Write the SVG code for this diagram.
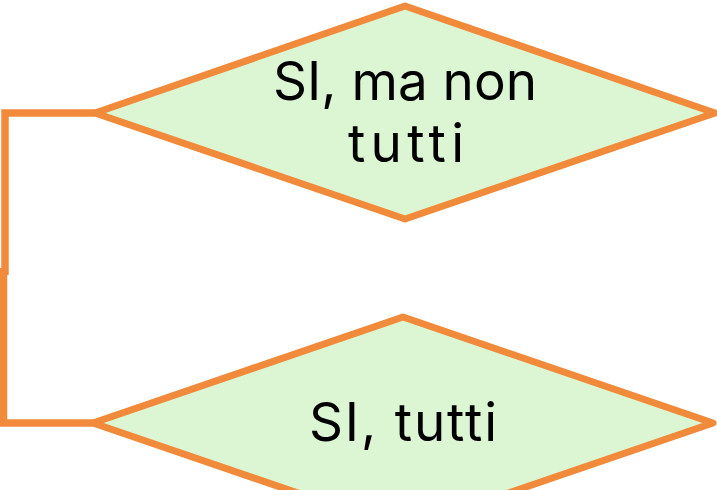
<svg xmlns="http://www.w3.org/2000/svg" width="717" height="490" viewBox="0 0 717 490">
<style>
.d{fill:#dcf6d4;stroke:#f18a3a;stroke-width:7;stroke-linejoin:round}
.c{fill:none;stroke:#f18a3a;stroke-width:7.5}
.t{font-family:Inter,"Liberation Sans",sans-serif;font-size:53px;fill:#000;text-anchor:middle}
</style>
<g id="connectors">
<path class="c" d="M95,113 H5 V275"/>
<path class="c" d="M3.5,268 V423 H95"/>
</g>
<g id="node1">
<polygon class="d" points="405,6 715,113 405,219 95,113"/>
<text class="t" x="405" y="100" textLength="264">SI, ma non</text>
<text class="t" x="406" y="162" textLength="116">tutti</text>
</g>
<g id="node2">
<polygon class="d" points="403,317 713,423 403,529 93,423"/>
<text class="t" x="403" y="441" textLength="188">SI, tutti</text>
</g>
</svg>
